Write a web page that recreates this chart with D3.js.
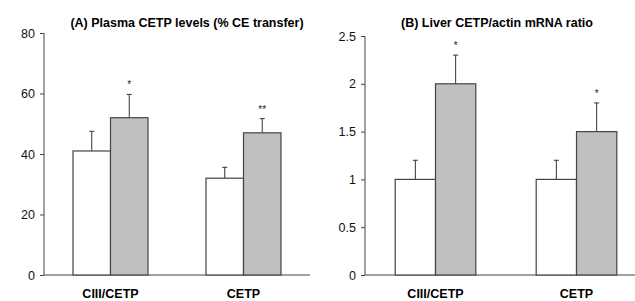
<!DOCTYPE html>
<html>
<head>
<meta charset="utf-8">
<script src="https://cdn.jsdelivr.net/npm/d3@7"></script>
<style>
  body { margin: 0; background: #fff; }
  svg { display: block; font-family: "Liberation Sans", Arial, sans-serif; }
  .domain, .tick line { stroke: #444; }
  .tick text { font-size: 12.5px; fill: #111; }
</style>
</head>
<body>
<script>
// categories and series
var categories = ["CIII/CETP", "CETP"];
var series = ["control", "treated"];

// (A) Plasma CETP levels
var plasmaMean = [[41, 52], [32, 47]];
var plasmaErr = [[6.5, 7.7], [3.6, 4.7]];
var plasmaStars = [["", "*"], ["", "**"]];
var plasmaTicks = [0, 20, 40, 60, 80];

// (B) Liver mRNA ratio
var liverMean = [[1.0, 2.0], [1.0, 1.5]];
var liverErr = [[0.2, 0.3], [0.2, 0.3]];
var liverStars = [["", "*"], ["", "*"]];
var liverTicks = [0, 0.5, 1, 1.5, 2, 2.5];

var colors = ["#ffffff", "#c0c0c0"];

var svg = d3.select("body").append("svg")
    .attr("width", 635)
    .attr("height", 301);

function drawPanel(opt) {
    var g = svg.append("g");

    var y = d3.scaleLinear().domain(opt.yDomain).range([275, opt.yTop]);
    var x = d3.scaleBand().domain(categories).range(opt.xRange).padding(0);
    var inner = d3.scaleBand().domain(series)
        .range([x.bandwidth() / 2 - opt.pairW / 2, x.bandwidth() / 2 + opt.pairW / 2])
        .padding(0);

    // y axis
    g.append("g")
        .attr("transform", "translate(" + opt.xRange[0] + ",0)")
        .call(d3.axisLeft(y).tickValues(opt.ticks).tickSize(4).tickPadding(5)
            .tickFormat(function(d) { return d; }))
        .call(function(a) { a.select(".domain").attr("d", "M0," + y(opt.yDomain[1]) + "V" + y(0)); });

    // x baseline
    g.append("line")
        .attr("x1", opt.xRange[0]).attr("x2", opt.xRange[1])
        .attr("y1", y(0)).attr("y2", y(0))
        .attr("stroke", "#444");

    var groups = g.selectAll("g.cat")
        .data(categories)
        .enter().append("g")
        .attr("class", "cat")
        .attr("transform", function(d) { return "translate(" + x(d) + ",0)"; });

    groups.each(function(cat, ci) {
        var cg = d3.select(this);
        var rows = series.map(function(s, si) {
            return { s: s, si: si, v: opt.mean[ci][si], e: opt.err[ci][si], star: opt.stars[ci][si] };
        });

        // error bars (upper only)
        cg.selectAll("line.err")
            .data(rows).enter().append("line")
            .attr("class", "err")
            .attr("x1", function(d) { return inner(d.s) + inner.bandwidth() / 2; })
            .attr("x2", function(d) { return inner(d.s) + inner.bandwidth() / 2; })
            .attr("y1", function(d) { return y(d.v); })
            .attr("y2", function(d) { return y(d.v + d.e); })
            .attr("stroke", "#333");
        cg.selectAll("line.cap")
            .data(rows).enter().append("line")
            .attr("class", "cap")
            .attr("x1", function(d) { return inner(d.s) + inner.bandwidth() / 2 - 2.5; })
            .attr("x2", function(d) { return inner(d.s) + inner.bandwidth() / 2 + 2.5; })
            .attr("y1", function(d) { return y(d.v + d.e); })
            .attr("y2", function(d) { return y(d.v + d.e); })
            .attr("stroke", "#333");

        cg.selectAll("rect")
            .data(rows).enter().append("rect")
            .attr("x", function(d) { return inner(d.s); })
            .attr("y", function(d) { return y(d.v); })
            .attr("width", inner.bandwidth())
            .attr("height", function(d) { return y(0) - y(d.v); })
            .attr("fill", function(d) { return colors[d.si]; })
            .attr("stroke", "#444")
            .attr("stroke-width", 1.2);

        cg.selectAll("text.star")
            .data(rows).enter().append("text")
            .attr("class", "star")
            .attr("x", function(d) { return inner(d.s) + inner.bandwidth() / 2; })
            .attr("y", function(d) { return y(d.v + d.e) - 6; })
            .attr("text-anchor", "middle")
            .attr("font-size", "10px")
            .attr("fill", "#222")
            .text(function(d) { return d.star; });
    });

    // category labels
    g.selectAll("text.cat")
        .data(categories).enter().append("text")
        .attr("class", "cat")
        .attr("x", function(d) { return x(d) + x.bandwidth() / 2; })
        .attr("y", 298)
        .attr("text-anchor", "middle")
        .attr("font-weight", "bold")
        .attr("font-size", "12.5px")
        .text(function(d) { return d; });

    // title
    g.append("text")
        .attr("x", opt.titleX)
        .attr("y", 27)
        .attr("text-anchor", "middle")
        .attr("font-weight", "bold")
        .attr("font-size", "12.5px")
        .text(opt.title);
}

drawPanel({
    title: "(A) Plasma CETP levels (% CE transfer)",
    titleX: 187,
    yDomain: [0, 80], yTop: 33, ticks: plasmaTicks,
    xRange: [44, 310], pairW: 75,
    mean: plasmaMean, err: plasmaErr, stars: plasmaStars
});

drawPanel({
    title: "(B) Liver CETP/actin mRNA ratio",
    titleX: 497,
    yDomain: [0, 2.5], yTop: 36, ticks: liverTicks,
    xRange: [365, 647], pairW: 80.6,
    mean: liverMean, err: liverErr, stars: liverStars
});
</script>
</body>
</html>
